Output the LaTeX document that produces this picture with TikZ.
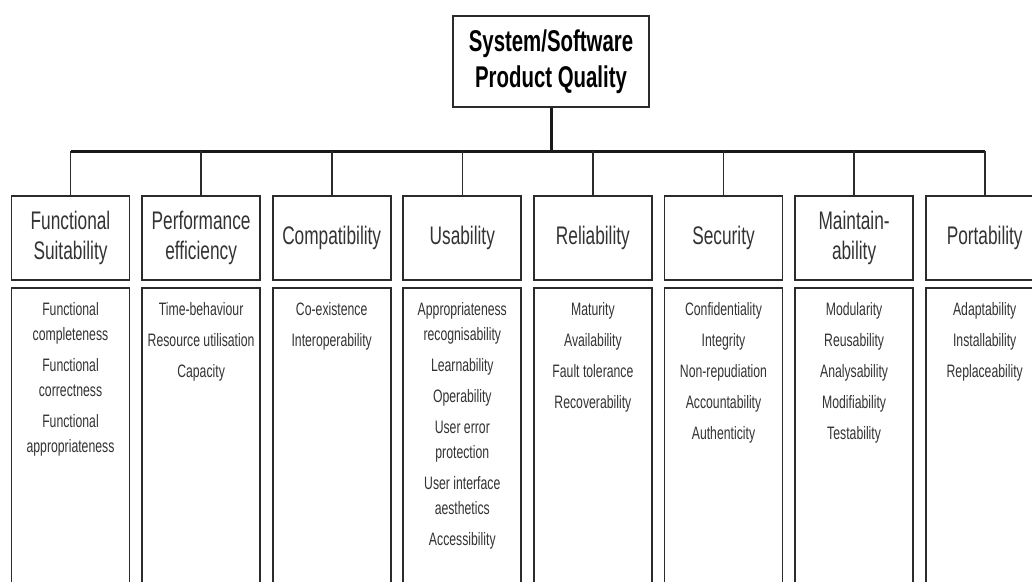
\documentclass[tikz,border=0pt]{standalone}
\usepackage{fontspec}
\setmainfont{Liberation Sans}[FakeStretch=0.68]
\usetikzlibrary{positioning,calc}

\definecolor{linegray}{HTML}{2B2B2B}
\definecolor{textgray}{HTML}{333333}

\begin{document}
\begin{tikzpicture}[
    x=1pt, y=-1pt,
    topbox/.style={rectangle,draw=linegray,line width=1.8pt,minimum width=196pt,minimum height=91pt,align=center,font=\bfseries\fontsize{30}{36}\selectfont},
    catbox/.style={rectangle,draw=linegray,line width=1.8pt,minimum width=118pt,minimum height=84pt,align=center,text=textgray,font=\fontsize{25.4}{30}\selectfont},
    subbox/.style={rectangle,draw=linegray,line width=1.8pt,minimum width=118pt,minimum height=320pt},
    subtext/.style={align=center,inner sep=0pt,anchor=north,text=textgray,font=\fontsize{18}{25}\selectfont},
    link/.style={draw=linegray,line width=1.6pt},
    bar/.style={draw=black!90,line width=3pt}
]

\useasboundingbox (0,0) rectangle (1032,581);
\clip (0,0) rectangle (1032,581);

\def \STEP {130.6}; % distance between two columns
\def \FIRST {70.5}; % centre of the first column

% Top of the tree
\node[topbox] (quality) at (551,61.5) {System/Software\\Product Quality};

\coordinate (barleft) at (\FIRST,151);
\coordinate (barright) at (\FIRST+7*\STEP,151);
\draw[bar] (barleft) -- (barright);
\draw[bar] (quality) -- (quality |- barleft);

% Characteristics and their sub-characteristics
\foreach \name/\items [count=\i from 0] in {
    {Functional\\Suitability}/{Functional\\completeness\\[6pt]Functional\\correctness\\[6pt]Functional\\appropriateness},
    {Performance\\efficiency}/{Time-behaviour\\[6pt]Resource utilisation\\[6pt]Capacity},
    {Compatibility}/{Co-existence\\[6pt]Interoperability},
    {Usability}/{Appropriateness\\recognisability\\[6pt]Learnability\\[6pt]Operability\\[6pt]User error\\protection\\[6pt]User interface\\aesthetics\\[6pt]Accessibility},
    {Reliability}/{Maturity\\[6pt]Availability\\[6pt]Fault tolerance\\[6pt]Recoverability},
    {Security}/{Confidentiality\\[6pt]Integrity\\[6pt]Non-repudiation\\[6pt]Accountability\\[6pt]Authenticity},
    {Maintain-\\ability}/{Modularity\\[6pt]Reusability\\[6pt]Analysability\\[6pt]Modifiability\\[6pt]Testability},
    {Portability}/{Adaptability\\[6pt]Installability\\[6pt]Replaceability}} {
    \node[catbox] (cat\i) at (\FIRST+\i*\STEP,238) {\name};
    \draw[link] (cat\i) -- (cat\i |- barleft);
    \node[subbox] (sub\i) at (\FIRST+\i*\STEP,448) {};
    \node[subtext] (list\i) at ($(sub\i.north)+(0,15)$) {\items};
}

\end{tikzpicture}
\end{document}
